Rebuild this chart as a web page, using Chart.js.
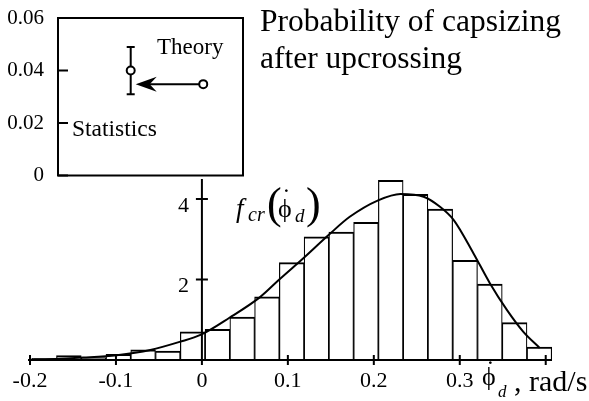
<!DOCTYPE html>
<html>
<head>
<meta charset="utf-8">
<script src="https://cdn.jsdelivr.net/npm/chart.js@4"></script>
<style>
  body { margin: 0; background: #fff; }
  #wrap { position: relative; width: 589px; height: 401px; overflow: hidden;
          font-family: 'Liberation Serif', 'Times New Roman', serif; color: #000; }
  canvas { position: absolute; left: 0; top: 0; }
  .t { position: absolute; white-space: nowrap; line-height: 1; }
  .i { font-style: italic; }
</style>
</head>
<body>
<div id="wrap">
  <canvas id="mainChart" width="589" height="401"></canvas>
  <canvas id="insetChart" width="245" height="190"></canvas>

  <div class="t" style="left:260px; top:3px; font-size:31.5px; line-height:36.6px;">Probability of capsizing<br>after upcrossing</div>

  <span class="t" style="left:157px; top:35px; font-size:23px;">Theory</span>
  <span class="t" style="left:72px; top:117px; font-size:23.5px;">Statistics</span>

  <!-- f_cr(phi-dot_d) -->
  <span class="t i" style="left:236px; top:195px; font-size:27px;">f</span>
  <span class="t i" style="left:248px; top:204px; font-size:20px;">cr</span>
  <span class="t" style="left:267px; top:182px; font-size:44px;">(</span>
  <span class="t" style="left:278px; top:196px; font-size:26px;">ϕ</span>
  <span class="t" style="left:282px; top:185px; font-size:26px;">˙</span>
  <span class="t i" style="left:295px; top:206px; font-size:19px;">d</span>
  <span class="t" style="left:306px; top:182px; font-size:44px;">)</span>

  <!-- x axis name -->
  <span class="t" style="left:482px; top:364px; font-size:26px;">ϕ</span>
  <span class="t" style="left:486px; top:357px; font-size:26px;">˙</span>
  <span class="t i" style="left:498px; top:383px; font-size:17px;">d</span>
  <span class="t" style="left:514px; top:366px; font-size:30px;">, rad/s</span>
</div>

<script>
// histogram: bin centres (rad/s) and heights
const binCentres = [-0.1836, -0.1548, -0.1260, -0.0972, -0.0684, -0.0396, -0.0107,
                     0.0181,  0.0469,  0.0757,  0.1045,  0.1333,  0.1621,  0.1909,
                     0.2197,  0.2485,  0.2773,  0.3062,  0.3350,  0.3638,  0.3926];
const binHeights = [0.04, 0.11, 0.06, 0.14, 0.25, 0.22, 0.70,
                    0.76, 1.07, 1.57, 2.42, 3.06, 3.18, 3.42,
                    4.47, 4.12, 3.75, 2.48, 1.89, 0.93, 0.32];

// fitted density f_cr
const curveX = [-0.196, -0.177, -0.138, -0.099, -0.060, -0.026, -0.001, 0.032, 0.068, 0.090,
                 0.118,  0.148,  0.172,  0.205,  0.231,  0.258,  0.277, 0.293, 0.316, 0.335,
                 0.355,  0.374,  0.393];
const curveY = [0.01, 0.02, 0.06, 0.12, 0.25, 0.45, 0.63, 1.05, 1.57, 2.00,
                2.53, 3.12, 3.56, 3.97, 4.13, 4.06, 3.81, 3.48, 2.65, 1.91,
                1.24, 0.70, 0.30];

// axis ticks
const xTicks = [-0.2, -0.1, 0, 0.1, 0.2, 0.3, 0.4];
const xTickLabels = ['-0.2', '-0.1', '0', '0.1', '0.2', '0.3', ''];
const yTicks = [0, 2, 4];
const yTickLabels = ['', '2', '4'];

// inset: probability of capsizing after upcrossing
const insetNames = ['Statistics', 'Theory'];
const insetPos = [0.393, 0.785];
const insetValues = [0.040, 0.0348];
const insetLow = [0.031, null];
const insetHigh = [0.049, null];
const insetTicks = [0, 0.02, 0.04, 0.06];

const serif = "'Liberation Serif', 'Times New Roman', serif";
Chart.defaults.font.family = serif;
Chart.defaults.color = '#000';

// axes crossing at zero, with ticks on both sides of the line
const crossAxes = {
  id: 'crossAxes',
  afterDatasetsDraw(chart) {
    const {ctx, chartArea, scales: {x, y}} = chart;
    const x0 = x.getPixelForValue(0);
    const y0 = y.getPixelForValue(0);
    ctx.save();
    ctx.strokeStyle = '#000';
    ctx.lineWidth = 2;
    ctx.beginPath();
    ctx.moveTo(chartArea.left - 2, y0);
    ctx.lineTo(chartArea.right, y0);
    ctx.moveTo(x0, chartArea.top);
    ctx.lineTo(x0, y0);
    x.ticks.forEach(t => {
      const px = x.getPixelForValue(t.value);
      ctx.moveTo(px, y0 - 5);
      ctx.lineTo(px, y0 + 5);
    });
    y.ticks.forEach(t => {
      if (t.value === 0) return;
      const py = y.getPixelForValue(t.value);
      ctx.moveTo(x0 - 6, py);
      ctx.lineTo(x0 + 6, py);
    });
    ctx.stroke();

    // y tick labels sit to the left of the zero line
    ctx.fillStyle = '#000';
    ctx.font = '22px ' + serif;
    ctx.textAlign = 'right';
    ctx.textBaseline = 'middle';
    y.ticks.forEach((t, i) => {
      ctx.fillText(yTickLabels[i], x0 - 13, y.getPixelForValue(t.value) + 7);
    });
    ctx.restore();
  }
};

new Chart(document.getElementById('mainChart'), {
  type: 'bar',
  data: {
    datasets: [
      {
        type: 'line',
        data: curveX.map((v, i) => ({x: v, y: curveY[i]})),
        borderColor: '#000',
        borderWidth: 2,
        pointRadius: 0,
        fill: false,
        cubicInterpolationMode: 'monotone',
        order: 0
      },
      {
        data: binCentres.map((v, i) => ({x: v, y: binHeights[i]})),
        backgroundColor: '#fff',
        borderColor: '#000',
        borderWidth: {top: 2, left: 1.2, right: 1.2, bottom: 0},
        borderSkipped: false,
        barPercentage: 1,
        categoryPercentage: 1,
        order: 1
      }
    ]
  },
  options: {
    responsive: false,
    animation: false,
    layout: {autoPadding: false, padding: {left: 30, right: 37, top: 179, bottom: 0}},
    scales: {
      x: {
        type: 'linear',
        offset: false,
        min: -0.2,
        max: 0.4073,
        grid: {display: false, drawTicks: true, tickLength: 8},
        border: {display: false},
        afterBuildTicks: s => { s.ticks = xTicks.map(v => ({value: v})); },
        afterFit: s => { s.height = 41; },
        ticks: {
          font: {size: 22},
          padding: 0,
          maxRotation: 0,
          autoSkip: false,
          callback: (v, i) => xTickLabels[i]
        }
      },
      y: {
        position: {x: 0},
        min: 0,
        max: 4.5,
        grid: {display: false},
        border: {display: false},
        afterBuildTicks: s => { s.ticks = yTicks.map(v => ({value: v})); },
        ticks: {display: false}
      }
    },
    plugins: {legend: {display: false}, tooltip: {enabled: false}}
  },
  plugins: [crossAxes]
});

// inset frame, inner ticks, error bar and arrow
const insetDecor = {
  id: 'insetDecor',
  beforeDatasetsDraw(chart) {
    const {ctx, scales: {x, y}} = chart;
    ctx.save();
    ctx.strokeStyle = '#000';
    ctx.lineWidth = 2;
    ctx.beginPath();
    insetPos.forEach((p, i) => {
      if (insetLow[i] == null) return;
      const px = x.getPixelForValue(p);
      const lo = y.getPixelForValue(insetLow[i]);
      const hi = y.getPixelForValue(insetHigh[i]);
      ctx.moveTo(px, lo); ctx.lineTo(px, hi);
      ctx.moveTo(px - 4, lo); ctx.lineTo(px + 4, lo);
      ctx.moveTo(px - 4, hi); ctx.lineTo(px + 4, hi);
    });
    // arrow from theory to statistics
    const sx = x.getPixelForValue(insetPos[0]);
    const tx = x.getPixelForValue(insetPos[1]);
    const ay = y.getPixelForValue(insetValues[1]);
    ctx.moveTo(tx, ay);
    ctx.lineTo(sx + 16, ay);
    ctx.stroke();
    ctx.fillStyle = '#000';
    ctx.beginPath();
    ctx.moveTo(sx + 5, ay);
    ctx.lineTo(sx + 26, ay - 7.5);
    ctx.lineTo(sx + 19, ay);
    ctx.lineTo(sx + 26, ay + 7.5);
    ctx.closePath();
    ctx.fill();
    ctx.restore();
  },
  afterDatasetsDraw(chart) {
    const {ctx, chartArea: a, scales: {y}} = chart;
    ctx.save();
    ctx.strokeStyle = '#000';
    ctx.lineWidth = 2;
    ctx.strokeRect(a.left, a.top, a.right - a.left, a.bottom - a.top);
    ctx.beginPath();
    y.ticks.forEach(t => {
      const py = y.getPixelForValue(t.value);
      ctx.moveTo(a.left, py);
      ctx.lineTo(a.left + 10, py);
    });
    ctx.stroke();
    ctx.restore();
  }
};

new Chart(document.getElementById('insetChart'), {
  type: 'scatter',
  data: {
    labels: insetNames,
    datasets: [{
      data: insetPos.map((p, i) => ({x: p, y: insetValues[i]})),
      pointRadius: 4,
      pointBackgroundColor: '#fff',
      pointBorderColor: '#000',
      pointBorderWidth: 2
    }]
  },
  options: {
    responsive: false,
    animation: false,
    layout: {autoPadding: false, padding: {left: 0, right: 2, top: 18, bottom: 14.5}},
    scales: {
      x: {type: 'linear', min: 0, max: 1, display: false},
      y: {
        min: 0,
        max: 0.06,
        grid: {display: false, drawTicks: true, tickLength: 14},
        border: {display: false},
        afterBuildTicks: s => { s.ticks = insetTicks.map(v => ({value: v})); },
        afterFit: s => { s.width = 58; },
        ticks: {font: {size: 21}, padding: 0}
      }
    },
    plugins: {legend: {display: false}, tooltip: {enabled: false}}
  },
  plugins: [insetDecor]
});
</script>
</body>
</html>
